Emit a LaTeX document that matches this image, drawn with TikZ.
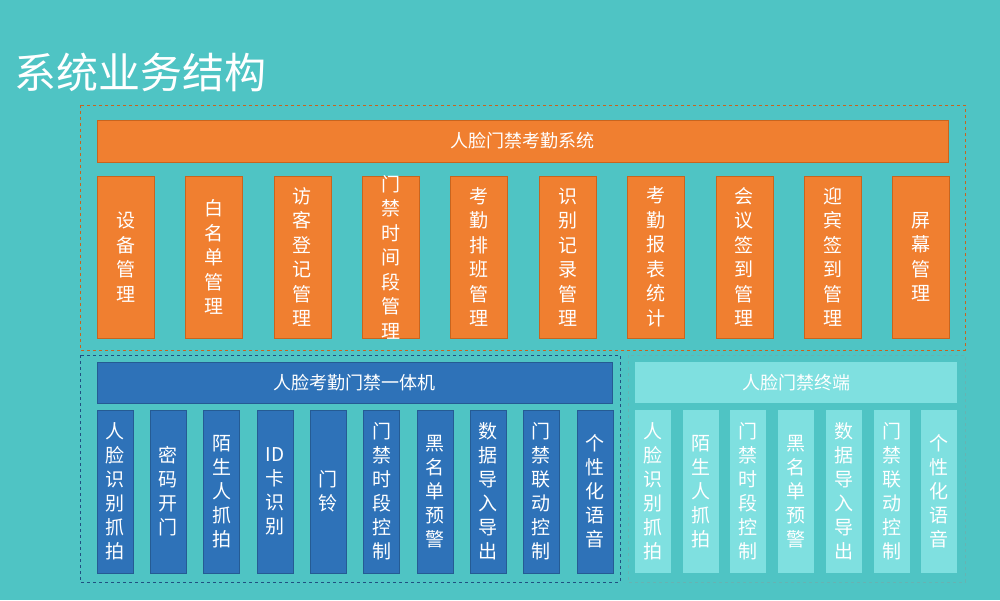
\documentclass[tikz,border=0pt]{standalone}
\usepackage{fontspec}
\setmainfont{Noto Sans CJK SC}
\definecolor{bg}{HTML}{4FC4C4}
\definecolor{org}{HTML}{F07F30}
\definecolor{orgb}{HTML}{C8641E}
\definecolor{blu}{HTML}{2E72B8}
\definecolor{cya}{HTML}{7FE0E0}
\begin{document}
\begin{tikzpicture}[x=1pt,y=-1pt,
  obox/.style={draw=orgb,fill=org,line width=0.6pt},
  bbox/.style={draw=blu!80!black,fill=blu,line width=0.4pt},
  cbox/.style={fill=cya},
  dsh/.style={dashed,line width=0.5pt},
  vt/.style={text=white,align=center,font=\fontsize{19}{24.5}\selectfont,inner sep=0pt},
  vts/.style={text=white,align=center,font=\fontsize{19}{24}\selectfont,inner sep=0pt},
  bar/.style={text=white,font=\fontsize{18}{22}\selectfont}]
\fill[bg] (0,0) rectangle (1000,600);
\useasboundingbox (0,0) rectangle (1000,600);
\node[anchor=west,text=white,font=\fontsize{42}{48}\selectfont,inner sep=0pt] (title) at (14,72) {系统业务结构};
\draw[dsh,draw=orgb] (80,105) rectangle (965,350);
\draw[dsh,draw=blu!70!black] (80,355) rectangle (620,582);
\draw[dsh,draw=cya!80!black] (628,355) rectangle (965,582);
\draw[obox] (97,120) rectangle (948,162);
\node[bar] (top) at (522.5,141) {人脸门禁考勤系统};
\foreach \i/\t in {0/设\\备\\管\\理,1/白\\名\\单\\管\\理,2/访\\客\\登\\记\\管\\理,3/门\\禁\\时\\间\\段\\管\\理,4/考\\勤\\排\\班\\管\\理,5/识\\别\\记\\录\\管\\理,6/考\\勤\\报\\表\\统\\计,7/会\\议\\签\\到\\管\\理,8/迎\\宾\\签\\到\\管\\理,9/屏\\幕\\管\\理}{
  \pgfmathsetmacro\xx{97+88.4*\i}
  \draw[obox] (\xx,176) rectangle ++(57,162);
  \node[vt] (o\i) at (\xx+28.5,257) {\t};
}
\draw[bbox] (97,362) rectangle (612,403);
\node[bar] (mid) at (354.5,382.5) {人脸考勤门禁一体机};
\foreach \i/\t in {0/人\\脸\\识\\别\\抓\\拍,1/密\\码\\开\\门,2/陌\\生\\人\\抓\\拍,3/ID\\卡\\识\\别,4/门\\铃,5/门\\禁\\时\\段\\控\\制,6/黑\\名\\单\\预\\警,7/数\\据\\导\\入\\导\\出,8/门\\禁\\联\\动\\控\\制,9/个\\性\\化\\语\\音}{
  \pgfmathsetmacro\xx{97+53.3*\i}
  \draw[bbox] (\xx,410) rectangle ++(36,163);
  \node[vts] (b\i) at (\xx+18,491.5) {\t};
}
\fill[cya] (635,362) rectangle (957,403);
\node[bar] (rt) at (796,382.5) {人脸门禁终端};
\foreach \i/\t in {0/人\\脸\\识\\别\\抓\\拍,1/陌\\生\\人\\抓\\拍,2/门\\禁\\时\\段\\控\\制,3/黑\\名\\单\\预\\警,4/数\\据\\导\\入\\导\\出,5/门\\禁\\联\\动\\控\\制,6/个\\性\\化\\语\\音}{
  \pgfmathsetmacro\xx{635+47.7*\i}
  \fill[cya] (\xx,410) rectangle ++(36,163);
  \node[vts] (c\i) at (\xx+18,491.5) {\t};
}
\end{tikzpicture}
\end{document}
